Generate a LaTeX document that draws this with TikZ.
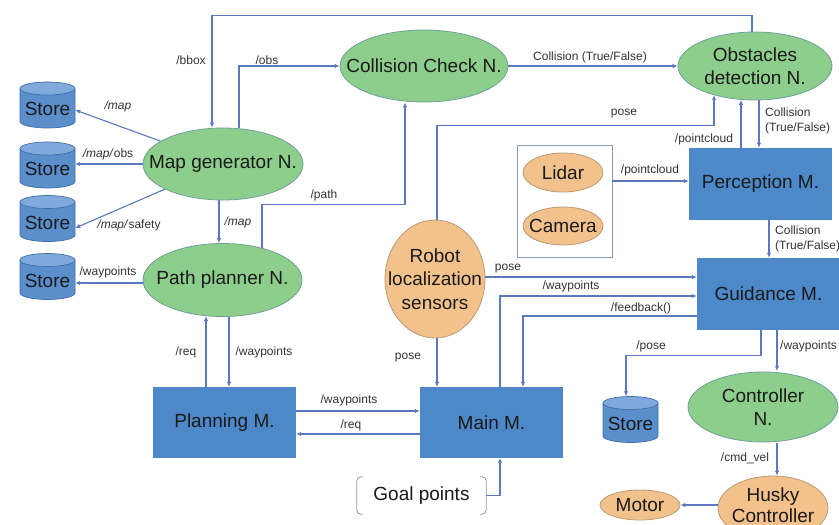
\documentclass[tikz,border=0pt]{standalone}
\usepackage{fontspec}
\setmainfont{Liberation Sans}
\usetikzlibrary{shapes.geometric,arrows.meta}
\definecolor{gfill}{HTML}{8ECE8C}
\definecolor{gline}{HTML}{6F9F9A}
\definecolor{ofill}{HTML}{F2C18C}
\definecolor{oline}{HTML}{B99A74}
\definecolor{bfill}{HTML}{4D88C8}
\definecolor{cline}{HTML}{5B78C0}
\definecolor{sbody}{HTML}{5A8FCB}
\definecolor{stopc}{HTML}{80AADB}
\definecolor{sedge}{HTML}{3F6FA8}
\definecolor{txt}{HTML}{1A1A1A}
\definecolor{ltxt}{HTML}{333333}
\definecolor{brk}{HTML}{9A9A9A}
\definecolor{sbox}{HTML}{8A9CC4}
\tikzset{
  big/.style={font=\fontsize{19}{23.5}\selectfont, text=txt, align=center},
  gnode/.style={ellipse, fill=gfill, draw=gline, line width=0.8pt, inner sep=0pt},
  onode/.style={ellipse, fill=ofill, draw=oline, line width=0.8pt, inner sep=0pt},
  boxnode/.style={big, rectangle, fill=bfill, draw=none, inner sep=0pt},
  lbl/.style={font=\fontsize{12}{15}\selectfont, text=ltxt, inner sep=0pt},
  arr/.style={draw=cline, line width=1.1pt, -{Latex[length=5pt,width=4.5pt]}},
  storeedge/.style={draw=sedge, line width=0.7pt},
}
\newcommand\storeat[3]{%
  \fill[sbody] (#2-27.5,#3-16.5) -- (#2-27.5,#3+16.5)
     arc[start angle=180,end angle=360,x radius=27.5pt,y radius=6.5pt]
     -- (#2+27.5,#3-16.5) -- cycle;
  \draw[storeedge] (#2-27.5,#3-16.5) -- (#2-27.5,#3+16.5)
     arc[start angle=180,end angle=360,x radius=27.5pt,y radius=6.5pt]
     -- (#2+27.5,#3-16.5);
  \filldraw[fill=stopc, storeedge] (#2,#3-16.5) ellipse[x radius=27.5pt, y radius=6.5pt];
  \node[inner sep=0pt, minimum width=55pt, minimum height=46pt] (#1) at (#2,#3) {};
  \node[big] (#1t) at (#2,#3+4) {Store};
}
\begin{document}
\begin{tikzpicture}[x=1pt,y=-1pt]
\useasboundingbox (0,0) rectangle (839,525);
\clip (0,0) rectangle (839,525);
\fill[white] (0,0) rectangle (839,525);

% stores
\storeat{s1}{47.5}{105}
\storeat{s2}{47.5}{165}
\storeat{s3}{47.5}{218.5}
\storeat{s4}{47.5}{276.5}
\storeat{s5}{630.5}{419.5}

% ellipses
\node[gnode, minimum width=168pt, minimum height=72pt, label={[big]center:Collision Check N.}] (colcheck) at (424,66) {};
\node[gnode, minimum width=154pt, minimum height=68pt, label={[big]center:Obstacles\\detection N.}] (obst) at (755,66) {};
\node[gnode, minimum width=160pt, minimum height=72pt, label={[big]center:Map generator N.}] (mapgen) at (223,164) {};
\node[gnode, minimum width=159pt, minimum height=73pt, label={[big]center:Path planner N.}] (pathp) at (222.5,280) {};
\node[gnode, minimum width=150pt, minimum height=70pt, label={[big, font=\fontsize{19}{23}\selectfont]center:Controller\\N.}] (ctrl) at (763,407) {};
\node[onode, minimum width=100pt, minimum height=118pt, label={[big]center:Robot\\localization\\sensors}] (robot) at (435,279) {};
\node[onode, minimum width=80pt, minimum height=39pt, label={[big]center:Lidar}] (lidar) at (563,172.5) {};
\node[onode, minimum width=80pt, minimum height=38pt, label={[big]center:Camera}] (camera) at (563,226) {};
\node[onode, minimum width=110pt, minimum height=64pt, label={[big, font=\fontsize{19}{21.5}\selectfont, yshift=3pt]center:Husky\\Controller}] (husky) at (773,508) {};
\node[onode, minimum width=80pt, minimum height=30pt, label={[big]center:Motor}] (motor) at (640,505) {};

% rectangles
\node[boxnode, minimum width=143pt, minimum height=72pt] (perc) at (760.5,184) {Perception M.};
\node[boxnode, minimum width=143pt, minimum height=72pt] (guid) at (768.5,294) {Guidance M.};
\node[boxnode, minimum width=143pt, minimum height=71pt] (plan) at (224.5,422.5) {Planning M.};
\node[boxnode, minimum width=143pt, minimum height=71pt] (main) at (491.5,422.5) {Main M.};
\node[draw=sbox, line width=0.7pt, minimum width=95pt, minimum height=112pt] (sens) at (564.5,201) {};

% goal points
\node[big, minimum width=129pt, minimum height=37pt, inner sep=0pt] (goal) at (421.5,495.5) {Goal points};
\draw[brk, line width=0.8pt, rounded corners=4pt] ([xshift=6pt]goal.north west) -- (goal.north west) -- (goal.south west) -- ([xshift=6pt]goal.south west);
\draw[brk, line width=0.8pt, rounded corners=4pt] ([xshift=-6pt]goal.north east) -- (goal.north east) -- (goal.south east) -- ([xshift=-6pt]goal.south east);

% connectors
\draw[arr] ([xshift=-3pt]obst.north) -- ++(0,-16) -| ([xshift=-11pt]mapgen.north);
\draw[arr] ([xshift=16pt,yshift=-0.6pt]mapgen.north) |- (colcheck.west);
\draw[arr] (colcheck.east) -- (obst.west);
\draw[arr] (mapgen) -- ([yshift=-5pt]s1.east);
\draw[arr] (mapgen.west) -- (mapgen.west -| s2.east);
\draw[arr] (mapgen) -- ([yshift=-9.5pt]s3.east);
\draw[arr] ([xshift=-4pt]mapgen.south) -- ([xshift=-3.5pt]pathp.north);
\draw[arr] ([shift={(39.5pt,-4.8pt)}]pathp.north) -- ++(0,-43) -| ([xshift=-19pt]colcheck.south);
\draw[arr] ([yshift=-3pt]pathp.west) -- ([yshift=-6.5pt]s4.east);
\draw[arr] ([xshift=-18.5pt]plan.north) -- ([xshift=-16.5pt,yshift=0.8pt]pathp.south);
\draw[arr] ([xshift=6.5pt,yshift=0.3pt]pathp.south) -- ([xshift=4.5pt]plan.north);
\draw[arr] ([yshift=11.5pt]plan.east) -- ([yshift=11.5pt]main.west);
\draw[arr] ([yshift=-11.5pt]main.west) -- ([yshift=-11.5pt]plan.east);
\draw[arr] (goal.east) -| ([xshift=8.5pt]main.south);
\draw[arr] ([xshift=2pt]robot.south) -- ([xshift=-54.5pt]main.north);
\draw[arr] ([xshift=2pt]robot.north) -- ++(0,-94) -| ([shift={(-41pt,5.2pt)}]obst.south);
\draw[arr] ([xshift=-19.5pt]perc.north) -- ([xshift=-14pt,yshift=0.6pt]obst.south);
\draw[arr] ([xshift=4pt]obst.south) -- ([xshift=-1.5pt]perc.north);
\draw[arr] ([yshift=20pt]sens.east) -- ([yshift=3pt]perc.west);
\draw[arr] ([xshift=8.5pt]perc.south) -- ([xshift=0.5pt]guid.north);
\draw[arr] ([yshift=2pt]robot.east) -- ([yshift=17pt]guid.west);
\draw[arr] ([xshift=8.5pt]main.north) |- ([yshift=-2pt]guid.west);
\draw[arr] ([yshift=-22pt]guid.west) -| ([xshift=31.5pt]main.north);
\draw[arr] ([xshift=-7.5pt]guid.south) -- ++(0,25) -| ([xshift=-4.5pt]s5.north);
\draw[arr] ([xshift=8.5pt]guid.south) -- ([xshift=14pt,yshift=0.6pt]ctrl.north);
\draw[arr] ([xshift=14pt,yshift=-0.6pt]ctrl.south) -- ([xshift=4pt]husky.north);
\draw[arr] (husky.west |- motor) -- (motor.east);

% labels
\node[lbl] (l1) at (191,60) {/bbox};
\node[lbl] (l2) at (267,60) {/obs};
\node[lbl] (l3) at (590,57) {Collision (True/False)};
\node[lbl] (l4) at (118,106) {\textit{/map}};
\node[lbl] (l5) at (108,154) {\textit{/map/}obs};
\node[lbl] (l6) at (129,225) {\textit{/map/}safety};
\node[lbl] (l7) at (238,222) {\textit{/map}};
\node[lbl] (l8) at (324,195) {/path};
\node[lbl] (l9) at (108,272) {/waypoints};
\node[lbl] (l10) at (186,352) {/req};
\node[lbl] (l11) at (264,352) {/waypoints};
\node[lbl] (l12) at (349,400) {/waypoints};
\node[lbl] (l13) at (351,425) {/req};
\node[lbl] (l14) at (408,358) {pose};
\node[lbl] (l15) at (624,114) {pose};
\node[lbl] (l16) at (704,139) {/pointcloud};
\node[lbl, anchor=west, align=left] (l17) at (765,121) {Collision\\(True/False)};
\node[lbl] (l18) at (650,170) {/pointcloud};
\node[lbl, anchor=west, align=left] (l19) at (775,239) {Collision\\(True/False)};
\node[lbl] (l20) at (508,269) {pose};
\node[lbl] (l21) at (571,286) {/waypoints};
\node[lbl] (l22) at (641,308) {/feedback()};
\node[lbl] (l23) at (651,346) {/pose};
\node[lbl, anchor=west] (l24) at (780,346) {/waypoints};
\node[lbl] (l25) at (745,458) {/cmd\_vel};
\end{tikzpicture}
\end{document}
